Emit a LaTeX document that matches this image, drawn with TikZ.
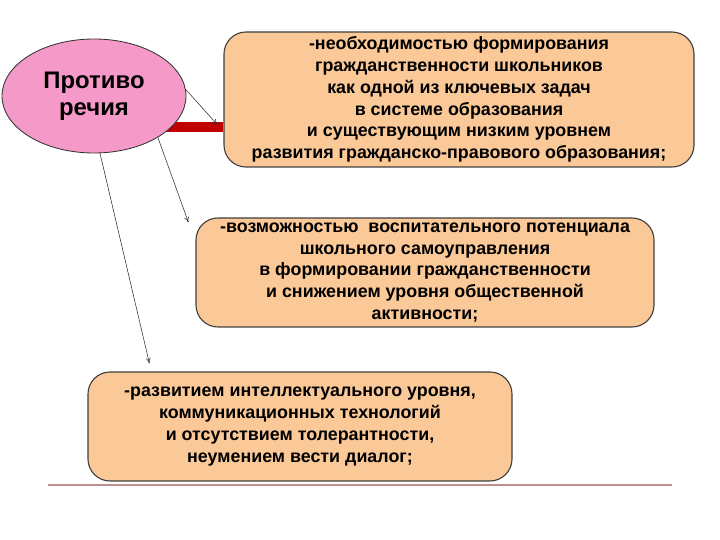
\documentclass[tikz,border=0pt]{standalone}
\usepackage{fontspec}
\setmainfont{Liberation Sans}
\usepackage{xcolor}
\usepackage{tikz}
\usetikzlibrary{calc,shapes.geometric,arrows.meta}
\definecolor{pinkfill}{HTML}{F59AC8}
\definecolor{peach}{HTML}{FBC898}
\definecolor{barred}{HTML}{C00000}
\definecolor{rulecol}{HTML}{C09090}
\tikzset{
  topic/.style={ellipse,draw=black!80,fill=pinkfill,minimum width=4.6cm,
    minimum height=2.85cm,inner sep=0pt,align=center,
    font=\fontsize{17}{19.5}\selectfont\bfseries},
  reason/.style={rectangle,rounded corners=0.55cm,draw=black!75,thick,fill=peach,
    align=center,inner sep=0pt,font=\fontsize{12.7}{15.5}\selectfont\bfseries},
  thinarrow/.style={-{To[length=4pt,width=3.5pt]},black!80,thin}
}

\begin{document}
\begin{tikzpicture}
  \useasboundingbox (0,0) rectangle (18,13.5);

  \node[reason,minimum width=11.75cm,minimum height=3.375cm] (box1) at (11.475,11.0125)
    {-необходимостью формирования\\гражданственности школьников\\как одной из ключевых задач\\в системе образования\\и существующим низким уровнем\\развития гражданско-правового образования;};
  \node[reason,minimum width=11.45cm,minimum height=2.725cm] (box2) at (10.625,6.6875)
    {-возможностью\ \ воспитательного потенциала\\школьного самоуправления\\в формировании гражданственности\\ и снижением уровня общественной\\активности;};
  \node[reason,minimum width=10.6cm,minimum height=2.725cm] (box3) at (7.5,2.8375)
    {-развитием интеллектуального уровня,\\коммуникационных технологий\\и отсутствием толерантности,\\неумением вести диалог;};

  % red bar behind the ellipse
  \draw[barred,line width=6.5pt] (2.35,10.325) -- (2.35,10.325 -| box1.west);

  \node[topic,line width=0.6pt] (ell) at (2.35,11.1) {Противо\\речия};

  \coordinate (tip1) at ($(box1.west)+(-0.15,-0.63)$);
  \coordinate (tip2) at ($(box2.north west)+(-0.175,-0.125)$);
  \coordinate (tip3) at ($(box3.north west)+(1.55,0.2)$);

  \draw[thinarrow] (ell.4) -- (tip1);
  \draw[thinarrow] (ell.-33) -- (tip2);
  \draw[thinarrow] (ell.-84) -- (tip3);

  \draw[rulecol,line width=1.5pt] (1.2,1.375) -- (16.8,1.375);
\end{tikzpicture}
\end{document}
